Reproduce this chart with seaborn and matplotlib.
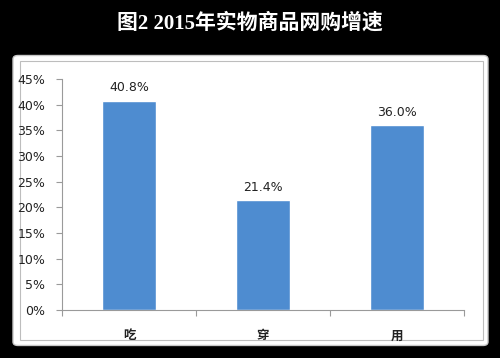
import matplotlib
matplotlib.use("Agg")
import matplotlib.pyplot as plt
import seaborn as sns
from matplotlib.patches import FancyBboxPatch, Rectangle
from matplotlib.ticker import FuncFormatter, MultipleLocator

# data
categories = ["吃", "穿", "用"]
growth = [40.8, 21.4, 36.0]
title = "图2 2015年实物商品网购增速"

sns.set_theme(style="white")
plt.rcParams["font.family"] = ["Noto Sans CJK SC", "DejaVu Sans"]

fig = plt.figure(figsize=(5.0, 3.58), dpi=100)
fig.patch.set_facecolor("black")

# white panel behind the chart
panel = FancyBboxPatch((0.026, 0.035), 0.95, 0.81,
                       boxstyle="round,pad=0,rounding_size=0.01",
                       transform=fig.transFigure, facecolor="white",
                       edgecolor="#c8c8c8", linewidth=1.0, zorder=-3)
fig.patches.append(panel)
inner = Rectangle((0.04, 0.05), 0.925, 0.78, transform=fig.transFigure,
                  facecolor="none", edgecolor="#bdbdbd", linewidth=0.8, zorder=-2)
fig.patches.append(inner)

fig.text(0.5, 0.935, title, color="white", fontsize=15, fontweight="bold",
         ha="center", va="center", family=["Liberation Serif", "Noto Sans CJK SC"])

ax = fig.add_axes([0.124, 0.134, 0.804, 0.645])
ax.set_facecolor("none")
sns.barplot(x=categories, y=growth, color="#4E8CD0", saturation=1,
            width=0.41, ax=ax)

for i, v in enumerate(growth):
    ax.text(i, v + 1.3, "%.1f%%" % v, ha="center", va="bottom",
            fontsize=9, color="#222222", family=["DejaVu Sans"])

ax.set_ylim(0, 45)
ax.set_xlim(-0.5, 2.5)
ax.yaxis.set_major_locator(MultipleLocator(5))
ax.yaxis.set_major_formatter(FuncFormatter(lambda y, _: "%d%%" % y))
ax.set_xlabel("")
ax.set_ylabel("")

for s in ["top", "right"]:
    ax.spines[s].set_visible(False)
for s in ["left", "bottom"]:
    ax.spines[s].set_color("#9a9a9a")
    ax.spines[s].set_linewidth(0.8)

ax.tick_params(axis="y", which="both", left=True, length=4, width=0.8,
               color="#9a9a9a", labelsize=9, labelcolor="#222222", pad=8)
for lab in ax.get_yticklabels():
    lab.set_family(["DejaVu Sans"])

ax.set_xticks([0, 1, 2])
ax.set_xticklabels(categories, fontsize=9, fontweight="bold", color="#222222")
ax.tick_params(axis="x", which="major", bottom=False, pad=8)
ax.set_xticks([-0.5, 0.5, 1.5, 2.5], minor=True)
ax.tick_params(axis="x", which="minor", bottom=True, length=4, width=0.8,
               color="#9a9a9a")

fig.savefig("out.png", dpi=100, facecolor=fig.get_facecolor())
